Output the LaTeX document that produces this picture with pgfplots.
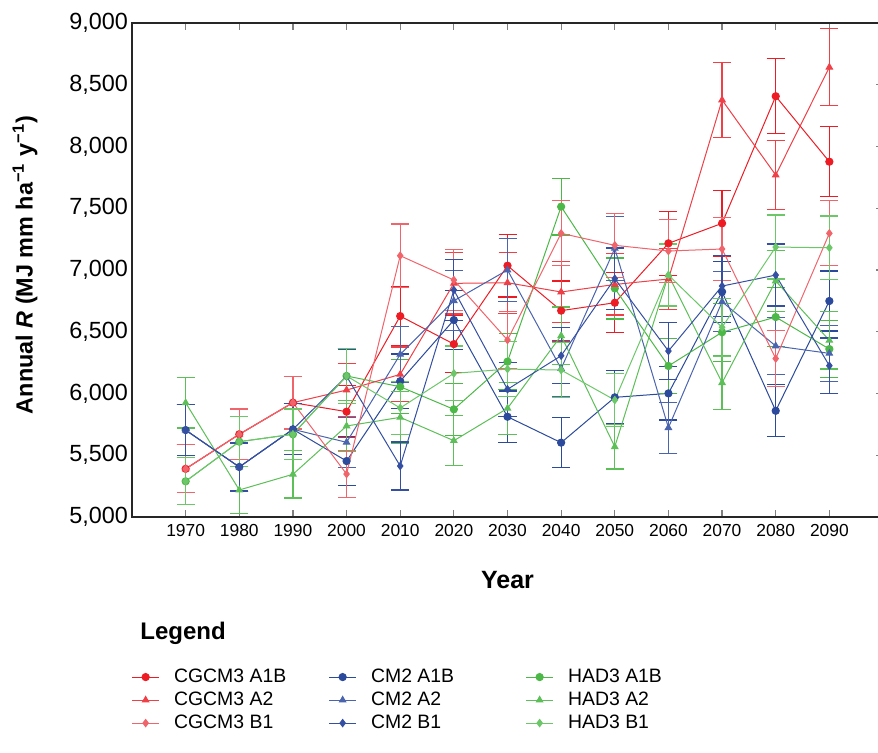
\documentclass[border=0pt]{standalone}
\usepackage{fontspec}
\setmainfont{Liberation Sans}
\usepackage{pgfplots}
\usepackage{pgfplotstable}
\pgfplotsset{compat=1.18}

\definecolor{rA}{HTML}{ED1C24}
\definecolor{rB}{HTML}{EF3F47}
\definecolor{rC}{HTML}{F0646B}
\definecolor{bA}{HTML}{2B4A9B}
\definecolor{bB}{HTML}{4A64AE}
\definecolor{bC}{HTML}{3550A2}
\definecolor{gA}{HTML}{4CB847}
\definecolor{gB}{HTML}{5CBF57}
\definecolor{gC}{HTML}{6CC768}

% CGCM3
\pgfplotstableread[row sep=\\]{
x y e\\
1970 5390 194\\ 1980 5670 204\\ 1990 5926 213\\ 2000 5853 211\\ 2010 6627 239\\
2020 6400 230\\ 2030 7035 253\\ 2040 6671 240\\ 2050 6735 242\\ 2060 7216 260\\
2070 7378 266\\ 2080 8407 303\\ 2090 7877 284\\
}\rAlb
\pgfplotstableread[row sep=\\]{
x y e\\
1970 5390 194\\ 1980 5670 204\\ 1990 5926 213\\ 2000 6028 217\\ 2010 6155 222\\
2020 6892 248\\ 2030 6897 248\\ 2040 6822 246\\ 2050 6883 248\\ 2060 6927 249\\
2070 8377 302\\ 2080 7769 280\\ 2090 8642 311\\
}\rAtwo
\pgfplotstableread[row sep=\\]{
x y e\\
1970 5390 194\\ 1980 5670 204\\ 1990 5926 213\\ 2000 5348 193\\ 2010 7116 256\\
2020 6919 249\\ 2030 6433 232\\ 2040 7297 263\\ 2050 7200 259\\ 2060 7154 258\\
2070 7170 258\\ 2080 6283 226\\ 2090 7297 263\\
}\rBone
% CM2
\pgfplotstableread[row sep=\\]{
x y e\\
1970 5704 205\\ 1980 5405 195\\ 1990 5710 206\\ 2000 5453 196\\ 2010 6100 220\\
2020 6595 237\\ 2030 5812 209\\ 2040 5602 202\\ 2050 5969 215\\ 2060 6001 216\\
2070 6824 246\\ 2080 5860 211\\ 2090 6749 243\\
}\bAlb
\pgfplotstableread[row sep=\\]{
x y e\\
1970 5704 205\\ 1980 5405 195\\ 1990 5710 206\\ 2000 5605 202\\ 2010 6317 227\\
2020 6751 243\\ 2030 7000 252\\ 2040 6201 223\\ 2050 7175 258\\ 2060 5723 206\\
2070 6743 243\\ 2080 6385 230\\ 2090 6325 228\\
}\bAtwo
\pgfplotstableread[row sep=\\]{
x y e\\
1970 5704 205\\ 1980 5405 195\\ 1990 5710 206\\ 2000 6140 221\\ 2010 5413 195\\
2020 6838 246\\ 2030 6034 217\\ 2040 6306 227\\ 2050 6930 249\\ 2060 6344 228\\
2070 6870 247\\ 2080 6959 251\\ 2090 6225 224\\
}\bBone
% HAD3
\pgfplotstableread[row sep=\\]{
x y e\\
1970 5289 190\\ 1980 5610 202\\ 1990 5670 204\\ 2000 6142 221\\ 2010 6055 218\\
2020 5872 211\\ 2030 6258 225\\ 2040 7513 230\\ 2050 6851 247\\ 2060 6223 224\\
2070 6496 234\\ 2080 6619 238\\ 2090 6360 229\\
}\gAlb
\pgfplotstableread[row sep=\\]{
x y e\\
1970 5925 205\\ 1980 5219 188\\ 1990 5346 192\\ 2000 5737 207\\ 2010 5807 209\\
2020 5618 202\\ 2030 5880 212\\ 2040 6468 233\\ 2050 5569 180\\ 2060 6959 251\\
2070 6087 219\\ 2080 6911 249\\ 2090 6430 231\\
}\gAtwo
\pgfplotstableread[row sep=\\]{
x y e\\
1970 5289 190\\ 1980 5610 202\\ 1990 5670 204\\ 2000 6142 221\\ 2010 5883 212\\
2020 6163 222\\ 2030 6198 223\\ 2040 6190 223\\ 2050 5947 214\\ 2060 6959 251\\
2070 6536 235\\ 2080 7186 259\\ 2090 7180 258\\
}\gBone

\pgfplotsset{
  ser/.style 2 args={color=#1, mark=#2, mark size=1.8pt, line width=0.5pt,
    mark options={solid},
    error bars/.cd, y dir=both, y explicit,
    error bar style={line width=0.6pt, color=#1},
    error mark options={rotate=90, mark size=4.5pt, line width=0.6pt, color=#1}},
}

\begin{document}
\begin{tikzpicture}
\path[use as bounding box] (-66pt,-117.5pt) rectangle (373pt,258.5pt);
\begin{axis}[
  at={(0pt,0pt)}, anchor=south west,
  scale only axis, width=375.5pt, height=247pt,
  xmin=1960, xmax=2100, ymin=5000, ymax=9000,
  xtick={1970,1980,...,2090},
  ytick={5000,5500,...,9000},
  xtick pos=both, ytick pos=right, yticklabel pos=left,
  tick align=inside,
  major tick length=3.7pt,
  tick style={black!50, line width=0.6pt},
  axis line style={black!85, line width=0.8pt},
  /pgf/number format/assume math mode=true,
  y tick label style={font=\fontsize{11.7}{13}\selectfont, /pgf/number format/1000 sep={,}, xshift=1.5pt},
  x tick label style={font=\fontsize{8.7}{10}\selectfont, /pgf/number format/1000 sep={}},
  xlabel={Year},
  xlabel style={font=\bfseries\fontsize{12.5}{14}\selectfont, at={(axis description cs:0.5,-0.1275)}, anchor=center},
  ylabel={Annual \textit{R} (MJ mm ha\textsuperscript{−1} y\textsuperscript{−1})},
  ylabel style={font=\bfseries\fontsize{11.7}{13}\selectfont, at={(axis description cs:-0.1425,0.51)}, anchor=center},
  legend columns=3,
  legend cell align=left,
  legend image code/.code={\draw[mark repeat=2,mark phase=2] plot coordinates {(0pt,0pt) (6.75pt,0pt) (13.5pt,0pt)};},
  legend style={at={(axis description cs:-0.001,-0.305)}, anchor=north west, draw=none, fill=none,
    inner sep=0pt, row sep=2.5pt, column sep=0pt,
    font=\fontsize{9.7}{11}\selectfont,
    nodes={inner xsep=0pt, inner ysep=0pt, text height=7pt, text depth=2pt},
    /tikz/every odd column/.append style={column sep=7.25pt}},
]
\addplot[ser={rA}{*}] table[x=x,y=y,y error=e]{\rAlb};
\addlegendentry{\makebox[77.25pt][l]{CGCM3 A1B}}
\addplot[ser={bA}{*}] table[x=x,y=y,y error=e]{\bAlb};
\addlegendentry{\makebox[77.25pt][l]{CM2 A1B}}
\addplot[ser={gA}{*}] table[x=x,y=y,y error=e]{\gAlb};
\addlegendentry{\makebox[77.25pt][l]{HAD3 A1B}}
\addplot[ser={rB}{triangle*}] table[x=x,y=y,y error=e]{\rAtwo};
\addlegendentry{\makebox[77.25pt][l]{CGCM3 A2}}
\addplot[ser={bB}{triangle*}] table[x=x,y=y,y error=e]{\bAtwo};
\addlegendentry{\makebox[77.25pt][l]{CM2 A2}}
\addplot[ser={gB}{triangle*}] table[x=x,y=y,y error=e]{\gAtwo};
\addlegendentry{\makebox[77.25pt][l]{HAD3 A2}}
\addplot[ser={rC}{diamond*}] table[x=x,y=y,y error=e]{\rBone};
\addlegendentry{\makebox[77.25pt][l]{CGCM3 B1}}
\addplot[ser={bC}{diamond*}] table[x=x,y=y,y error=e]{\bBone};
\addlegendentry{\makebox[77.25pt][l]{CM2 B1}}
\addplot[ser={gC}{diamond*}] table[x=x,y=y,y error=e]{\gBone};
\addlegendentry{\makebox[77.25pt][l]{HAD3 B1}}
\end{axis}
\node[anchor=west, font=\bfseries\fontsize{12}{14}\selectfont, inner sep=0pt] at (4pt,-58pt) {Legend};
\end{tikzpicture}
\end{document}
